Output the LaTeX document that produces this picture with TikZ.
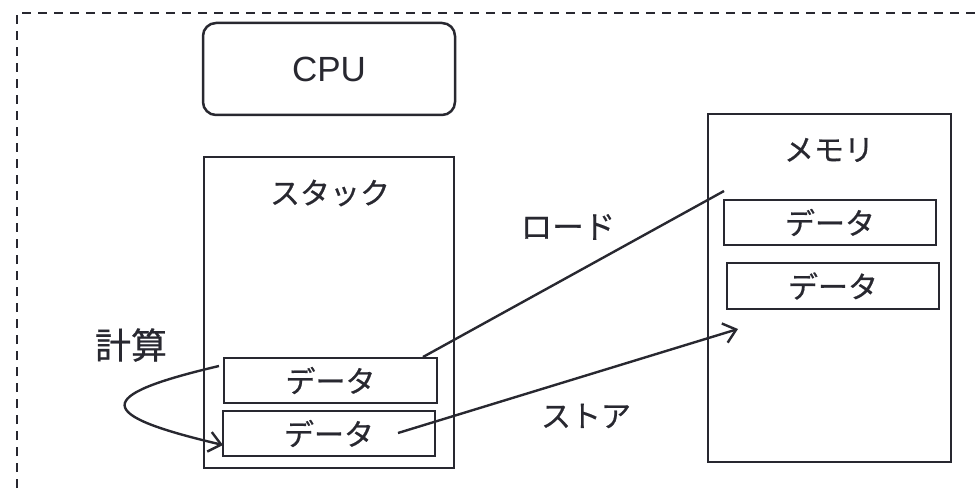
\documentclass[tikz,border=0pt]{standalone}
\usepackage{fontspec}
\setmainfont{Liberation Sans}
\newfontfamily\jpfont[FakeBold=0.6]{Noto Sans CJK JP}
\usetikzlibrary{arrows.meta}
\definecolor{ink}{RGB}{40,40,48}
\begin{document}
\begin{tikzpicture}[x=1pt,y=-1pt,
  every node/.style={text=ink},
  box/.style={draw=ink, line width=2.5pt, inner sep=0pt},
  jp/.style={font=\jpfont\fontsize{30}{34}\selectfont},
  jpbig/.style={font=\jpfont\fontsize{36}{40}\selectfont},
  lat/.style={font=\fontsize{35}{40}\selectfont},
  conn/.style={draw=ink, line width=2.4pt},
  tip/.style={-{Straight Barb[length=12pt,width=20pt,line width=2.4pt]}}
]
\useasboundingbox (0,0) rectangle (976,494);
\clip (0,0) rectangle (976,494);
% outer dashed frame
\draw[ink, line width=2.4pt, dash pattern=on 9pt off 7pt] (17,520) -- (17,13) -- (1000,13);

% CPU
\node[box, rounded corners=13pt, minimum width=252pt, minimum height=92pt, lat] (cpu) at (329,69) {CPU};

% Stack
\node[box, minimum width=250pt, minimum height=311pt] (stack) at (329,312.5) {};
\node[jp] (stacklbl) at (330,193) {スタック};
\node[box, minimum width=213pt, minimum height=45pt, jp] (sd1) at (330.5,380.5) {データ};
\node[box, minimum width=212pt, minimum height=45pt, jp] (sd2) at (329,433.5) {データ};

% Memory
\node[box, minimum width=243pt, minimum height=348pt] (mem) at (829.5,288) {};
\node[jp] (memlbl) at (829,150) {メモリ};
\node[box, minimum width=212pt, minimum height=45pt, jp] (md1) at (830,222.5) {データ};
\node[box, minimum width=212pt, minimum height=46pt, jp] (md2) at (833,286) {データ};

% labels
\node[jp, font=\jpfont\fontsize{31.5}{36}\selectfont] (loadlbl) at (568,227) {ロード};
\node[jp] (storelbl) at (586,416) {ストア};
\node[jpbig] (calclbl) at (131,345) {計算};

% connectors
\coordinate (loadstart) at (423,357);
\coordinate (loadend) at (724,191);
\draw[conn] (loadstart) -- (loadend);

\coordinate (storestart) at (398,433);
\coordinate (storeend) at (738,329);
\draw[conn, tip] (storestart) -- (storeend);

\coordinate (calcstart) at (219,366);
\coordinate (calcend) at (223,445);
\draw[conn, tip] (calcstart) .. controls (91,396) and (95,415) .. (calcend);
\end{tikzpicture}
\end{document}
